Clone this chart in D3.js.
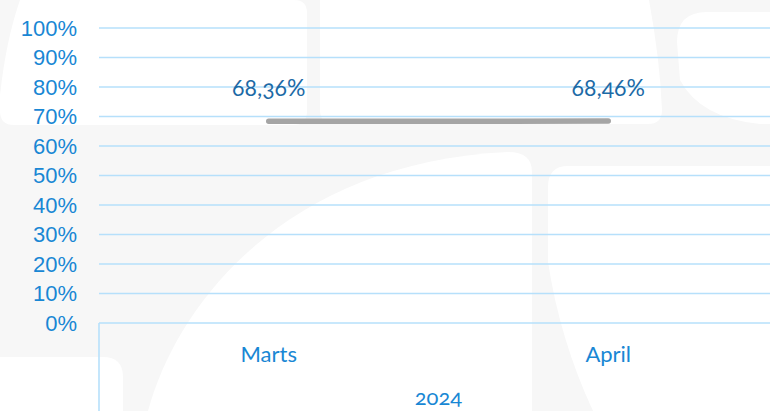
<!DOCTYPE html>
<html>
<head>
<meta charset="utf-8">
<script src="https://d3js.org/d3.v7.min.js"></script>
<style>
  html, body { margin: 0; padding: 0; background: #fff; }
  svg { display: block; font-family: Lato, "Open Sans", sans-serif; font-variant-numeric: oldstyle-nums; }
  .tick-label, .cat-label, .year-label { fill: #1987d4; font-size: 22px; }
  .data-label { fill: #1c6aa6; font-size: 23px; }
</style>
</head>
<body>
<script>
var months = ["Marts", "April"];
var values = [68.36, 68.46];
var valueLabels = ["68,36%", "68,46%"];
var yearLabel = "2024";
var yTicks = [0, 10, 20, 30, 40, 50, 60, 70, 80, 90, 100];

var W = 770, H = 411;
var margin = {top: 28, right: -8, bottom: 88, left: 99}
  , width = W - margin.left - margin.right
  , height = H - margin.top - margin.bottom;

var svg = d3.select("body").append("svg")
    .attr("width", W)
    .attr("height", H);

// faint logo watermark behind the chart
var bg = svg.append("g");
bg.append("rect").attr("width", W).attr("height", H).style("fill", "#f7f7f7");
var wm = [
  "M20,0 H294 Q307,0 307,13 V111 Q307,125 293,125 H14 Q0,125 0,111 V95 Q6,40 20,0 Z",
  "M334,0 H649 Q660,60 662,110 Q662,124 648,124 H334 Q320,124 320,110 V0 Z",
  "M677,42 Q677,12 707,12 H770 V124 H760 Q700,118 680,80 Z",
  "M0,357 H103 Q123,357 123,377 V411 H0 Z",
  "M148,411 C178,300 290,162 508,152 Q532,152 532,172 V411 Z",
  "M548,187 Q548,166 568,166 H770 V411 H593 Q560,340 548,262 Z"
];
bg.selectAll("path").data(wm).enter().append("path")
    .attr("d", function(d) { return d; })
    .style("fill", "#ffffff");

var g = svg.append("g")
    .attr("transform", "translate(" + margin.left + "," + margin.top + ")");

var xScale = d3.scaleBand()
    .domain(months)
    .range([0, width]);

var yScale = d3.scaleLinear()
    .domain([0, 100])
    .range([height, 0]);

// gridlines
g.selectAll(".grid").data(yTicks).enter().append("line")
    .attr("class", "grid")
    .attr("x1", 0).attr("x2", width)
    .attr("y1", function(d) { return yScale(d); })
    .attr("y2", function(d) { return yScale(d); })
    .style("stroke", "#b6e0fb")
    .style("stroke-width", 1.6);

// y labels
var yAxis = g.append("g")
    .call(d3.axisLeft(yScale).tickValues(yTicks).tickSize(0).tickPadding(22)
      .tickFormat(function(d) { return d + "%"; }));
yAxis.select(".domain").remove();
yAxis.selectAll("text")
    .attr("class", "tick-label")
    .attr("fill", null)
    .attr("font-size", null)
    .attr("font-family", null);

// category axis frame
g.append("line")
    .attr("x1", 0).attr("x2", 0)
    .attr("y1", height).attr("y2", H)
    .style("stroke", "#b6e0fb").style("stroke-width", 1.6);

g.selectAll(".cat-label").data(months).enter().append("text")
    .attr("class", "cat-label")
    .attr("text-anchor", "middle")
    .attr("x", function(d) { return xScale(d) + xScale.bandwidth() / 2; })
    .attr("y", height + 39)
    .text(function(d) { return d; });

g.append("text")
    .attr("class", "year-label")
    .attr("text-anchor", "middle")
    .attr("x", width / 2)
    .attr("y", height + 82)
    .text(yearLabel);

// series line
var line = d3.line()
    .x(function(d, i) { return xScale(months[i]) + xScale.bandwidth() / 2; })
    .y(function(d) { return yScale(d); });

g.append("path")
    .datum(values)
    .attr("d", line)
    .style("fill", "none")
    .style("stroke", "#a5a5a5")
    .style("stroke-width", 5.5)
    .style("stroke-linecap", "round");

g.selectAll(".data-label").data(values).enter().append("text")
    .attr("class", "data-label")
    .attr("text-anchor", "middle")
    .attr("x", function(d, i) { return xScale(months[i]) + xScale.bandwidth() / 2; })
    .attr("y", function(d) { return yScale(d) - 25; })
    .text(function(d, i) { return valueLabels[i]; });
</script>
</body>
</html>
